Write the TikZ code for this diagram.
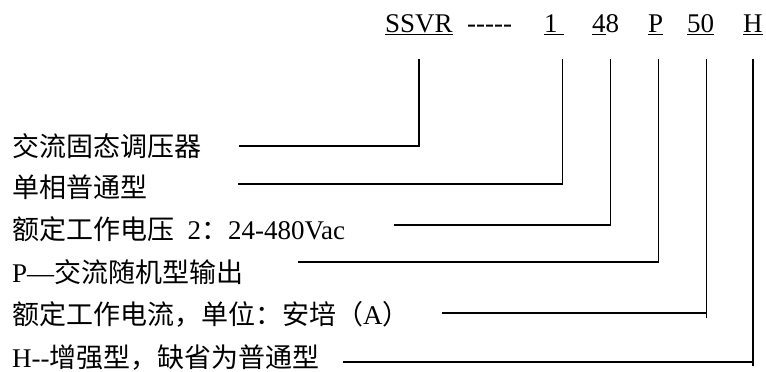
\documentclass[tikz,border=0pt]{standalone}
\usepackage{fontspec}
\setmainfont{Liberation Serif}
\newfontfamily\zh{Noto Sans CJK SC}
\usepackage{tikz}
\usetikzlibrary{calc}
\newcommand{\ulx}[1]{\setbox0\hbox{#1}\rlap{\rule[-3pt]{\wd0}{1.5pt}}\box0\relax}
\tikzset{txt/.style={font=\fontsize{27}{32}\selectfont, inner sep=0pt, anchor=base west},
  wire/.style={line width=1.4pt}}

\begin{document}
\begin{tikzpicture}[x=1pt,y=-1pt]
      \useasboundingbox (0,0) rectangle (766,372);
      % model code
      \node[txt] (ssvr) at (385,32) {\ulx{SSVR}};
      \node[txt] (dashes) at (467,32) {-{}-{}-{}-{}-};
      \node[txt] (one) at (544,32) {\ulx{1\ }};
      \node[txt] (volt) at (592,32) {\ulx{4}8};
      \node[txt] (pout) at (648,32) {\ulx{P}};
      \node[txt] (amps) at (687,32) {\ulx{50}};
      \node[txt] (hmode) at (743,32) {\ulx{H}};
      % descriptions
      \node[txt] (d1) at (12,156) {\zh 交流固态调压器};
      \node[txt] (d2) at (12,197) {\zh 单相普通型};
      \node[txt] (d3) at (12,239) {{\zh 额定工作电压}\ \ 2{\zh ：}24-480Vac};
      \node[txt] (d4) at (12,282) {P—{\zh 交流随机型输出}};
      \node[txt] (d5) at (12,324) {{\zh 额定工作电流，单位：安培（}A{\zh ）}};
      \node[txt] (d6) at (12,367) {H-{}-{\zh 增强型，缺省为普通型}};
      % line tops
      \coordinate (top) at (0,59);
      \coordinate (k1) at (ssvr.south |- top);
      \coordinate (k2) at ($(one.south east |- top)+(-2,0)$);
      \coordinate (k3) at ($(volt.south east |- top)+(-9,0)$);
      \coordinate (k4) at ($(pout.south east |- top)+(-5,0)$);
      \coordinate (k5) at ($(amps.south east |- top)+(-8,0)$);
      \coordinate (k6) at (hmode.south |- top);
      % line ends
      \coordinate (e1) at (239,146);
      \coordinate (e2) at (238,184);
      \coordinate (e3) at (394,225);
      \coordinate (e4) at (298,262);
      \coordinate (e5) at (442,313);
      \coordinate (e6) at (343,362);
      \draw[wire] (e1) -| (k1);
      \draw[wire] (e2) -| (k2);
      \draw[wire] (e3) -| (k3);
      \draw[wire] (e4) -| (k4);
      \draw[wire] (e5) -- (e5 -| k5) ++(0,5) -- (k5);
      \draw[wire] (e6) -- (e6 -| k6) ++(0,4) -- (k6);
    \end{tikzpicture}
\end{document}
